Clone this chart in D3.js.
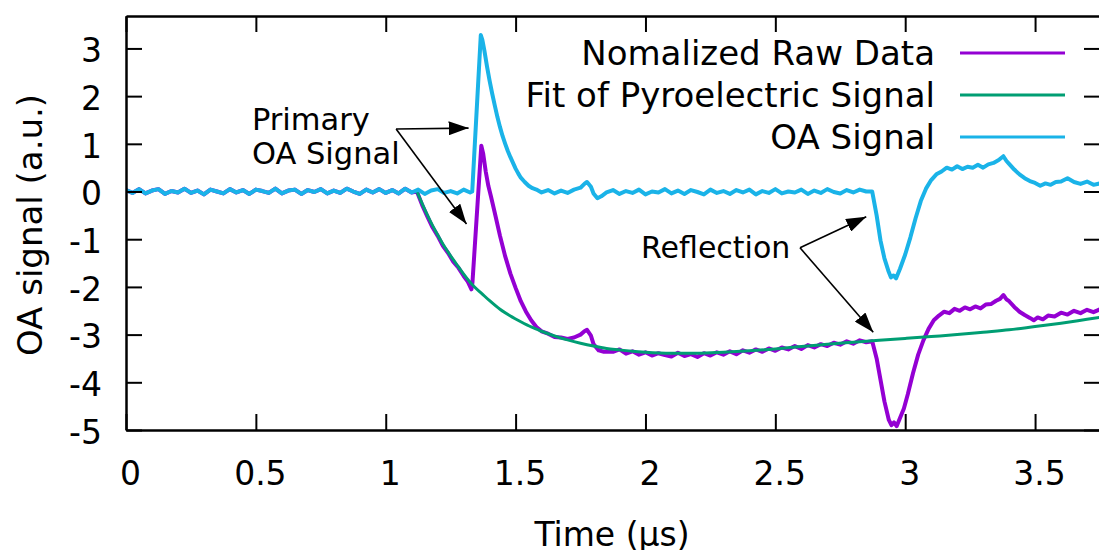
<!DOCTYPE html>
<html>
<head>
<meta charset="utf-8">
<script src="https://cdn.jsdelivr.net/npm/d3@7"></script>
<style>
  body { margin: 0; background: #fff; }
  svg { display: block; font-family: "DejaVu Sans", sans-serif; }
</style>
</head>
<body>
<div id="chart"></div>
<script>
// values, [time in µs, signal in a.u.]
var seriesNames = ["Nomalized Raw Data", "Fit of Pyroelectric Signal", "OA Signal"];
var seriesColors = ["#9400d3", "#009e73", "#1ab3e8"];

var rawData = [
  [0,0.03],[0.025,-0.03],[0.05,0.05],[0.075,-0.04],[0.1,0.02],[0.125,0.05],[0.15,-0.05],[0.175,0.01],
  [0.2,-0.02],[0.225,0.06],[0.25,-0.03],[0.275,0.02],[0.3,-0.06],[0.325,0.04],[0.35,0],[0.375,-0.04],
  [0.4,0.05],[0.425,-0.02],[0.45,0.03],[0.475,-0.05],[0.5,0.04],[0.525,0.01],[0.55,-0.03],[0.575,0.06],
  [0.6,-0.04],[0.625,0.02],[0.65,0.04],[0.675,-0.05],[0.7,0.03],[0.725,-0.01],[0.75,0.05],[0.775,-0.04],
  [0.8,0.02],[0.825,-0.03],[0.85,0.06],[0.875,0],[0.9,-0.05],[0.925,0.04],[0.95,-0.02],[0.975,0.05],
  [1.0,-0.03],[1.025,0.03],[1.05,-0.04],[1.075,0.06],[1.1,-0.02],[1.12,0],
  [1.14,-0.28],[1.16,-0.52],[1.18,-0.75],[1.2,-0.93],[1.22,-1.14],[1.24,-1.29],[1.26,-1.47],[1.28,-1.6],
  [1.3,-1.77],[1.315,-1.88],[1.33,-2.05],[1.334,-1.9],[1.368,0.96],[1.375,0.8],[1.385,0.42],[1.395,0.12],
  [1.405,-0.1],[1.42,-0.45],[1.44,-0.93],[1.46,-1.36],[1.48,-1.72],[1.5,-2.02],[1.52,-2.3],[1.54,-2.52],
  [1.56,-2.7],[1.58,-2.84],[1.6,-2.93],[1.625,-2.98],[1.65,-3.05],[1.675,-3.06],[1.7,-3.09],[1.725,-3.06],
  [1.75,-3.0],[1.765,-2.93],[1.775,-2.9],[1.79,-3.02],[1.8,-3.2],[1.82,-3.33],[1.84,-3.36],
  [1.875,-3.36],[1.9,-3.31],[1.925,-3.4],[1.95,-3.35],[1.975,-3.42],[2.0,-3.37],[2.025,-3.44],[2.05,-3.39],
  [2.075,-3.43],[2.1,-3.46],[2.125,-3.38],[2.15,-3.45],[2.175,-3.41],[2.2,-3.47],[2.225,-3.39],[2.25,-3.44],
  [2.275,-3.37],[2.3,-3.42],[2.325,-3.35],[2.35,-3.41],[2.375,-3.33],[2.4,-3.38],[2.425,-3.31],[2.45,-3.36],
  [2.475,-3.29],[2.5,-3.34],[2.525,-3.27],[2.55,-3.31],[2.575,-3.24],[2.6,-3.3],[2.625,-3.22],[2.65,-3.27],
  [2.675,-3.2],[2.7,-3.24],[2.725,-3.17],[2.75,-3.21],[2.775,-3.14],[2.8,-3.19],[2.825,-3.12],[2.85,-3.16],
  [2.873,-3.14],[2.89,-3.5],[2.905,-3.95],[2.92,-4.4],[2.937,-4.79],[2.947,-4.9],[2.957,-4.84],[2.967,-4.92],
  [2.98,-4.75],[2.995,-4.55],[3.01,-4.25],[3.03,-3.81],[3.05,-3.42],[3.07,-3.12],[3.09,-2.88],[3.11,-2.7],
  [3.13,-2.6],[3.15,-2.52],[3.17,-2.55],[3.19,-2.46],[3.21,-2.5],[3.23,-2.43],[3.25,-2.47],[3.27,-2.41],
  [3.29,-2.45],[3.31,-2.37],[3.33,-2.36],[3.35,-2.29],[3.365,-2.25],[3.378,-2.17],[3.39,-2.26],[3.4,-2.3],
  [3.42,-2.42],[3.44,-2.52],[3.46,-2.59],[3.48,-2.65],[3.495,-2.7],[3.51,-2.64],[3.53,-2.68],[3.55,-2.6],
  [3.575,-2.62],[3.6,-2.54],[3.625,-2.58],[3.65,-2.5],[3.675,-2.55],[3.7,-2.48],[3.725,-2.53],[3.75,-2.47]
];

var pyroFit = [
  [1.12,0],[1.14,-0.25],[1.16,-0.49],[1.18,-0.71],[1.2,-0.91],[1.22,-1.1],[1.24,-1.27],[1.26,-1.43],
  [1.28,-1.58],[1.3,-1.73],[1.32,-1.87],[1.34,-1.99],[1.37,-2.14],[1.4,-2.29],[1.44,-2.47],[1.48,-2.61],
  [1.52,-2.73],[1.56,-2.84],[1.6,-2.93],[1.65,-3.03],[1.7,-3.11],[1.75,-3.18],[1.8,-3.24],[1.85,-3.29],
  [1.9,-3.32],[1.95,-3.35],[2.0,-3.37],[2.1,-3.39],[2.2,-3.39],[2.3,-3.37],[2.4,-3.34],[2.5,-3.3],
  [2.6,-3.25],[2.7,-3.2],[2.8,-3.16],[2.9,-3.12],[3.0,-3.08],[3.1,-3.04],[3.2,-3.0],[3.3,-2.95],
  [3.4,-2.9],[3.5,-2.83],[3.6,-2.76],[3.7,-2.68],[3.75,-2.64]
];

var oaSignal = [
  [0,0.03],[0.025,-0.03],[0.05,0.05],[0.075,-0.04],[0.1,0.02],[0.125,0.05],[0.15,-0.05],[0.175,0.01],
  [0.2,-0.02],[0.225,0.06],[0.25,-0.03],[0.275,0.02],[0.3,-0.06],[0.325,0.04],[0.35,0],[0.375,-0.04],
  [0.4,0.05],[0.425,-0.02],[0.45,0.03],[0.475,-0.05],[0.5,0.04],[0.525,0.01],[0.55,-0.03],[0.575,0.06],
  [0.6,-0.04],[0.625,0.02],[0.65,0.04],[0.675,-0.05],[0.7,0.03],[0.725,-0.01],[0.75,0.05],[0.775,-0.04],
  [0.8,0.02],[0.825,-0.03],[0.85,0.06],[0.875,0],[0.9,-0.05],[0.925,0.04],[0.95,-0.02],[0.975,0.05],
  [1.0,-0.03],[1.025,0.03],[1.05,-0.04],[1.075,0.06],[1.1,-0.02],[1.125,0.04],[1.15,-0.05],[1.175,0.02],
  [1.2,0.05],[1.225,-0.03],[1.25,0.01],[1.275,-0.04],[1.3,0.04],[1.325,-0.02],
  [1.333,0],[1.366,3.28],[1.372,3.18],[1.38,2.95],[1.39,2.62],[1.4,2.32],[1.41,2.05],[1.42,1.8],
  [1.43,1.56],[1.44,1.35],[1.45,1.16],[1.46,1.0],[1.47,0.85],[1.48,0.72],[1.49,0.6],[1.5,0.48],
  [1.51,0.38],[1.52,0.29],[1.535,0.2],[1.55,0.12],[1.565,0.07],[1.58,0.04],[1.6,-0.02],[1.625,0.03],
  [1.65,-0.04],[1.675,0.02],[1.7,-0.03],[1.725,0.04],[1.75,0.08],[1.765,0.16],[1.775,0.2],[1.79,0.1],
  [1.8,-0.04],[1.815,-0.14],[1.83,-0.1],[1.85,-0.02],
  [1.875,0.03],[1.9,-0.05],[1.925,0.01],[1.95,-0.03],[1.975,0.04],[2.0,-0.06],[2.025,0],[2.05,-0.02],
  [2.075,0.05],[2.1,-0.04],[2.125,0.02],[2.15,-0.05],[2.175,0.03],[2.2,-0.01],[2.225,-0.06],[2.25,0.04],
  [2.275,-0.03],[2.3,0.01],[2.325,-0.05],[2.35,0.03],[2.375,-0.02],[2.4,0.04],[2.425,-0.06],[2.45,0.01],
  [2.475,-0.03],[2.5,0.05],[2.525,-0.04],[2.55,0],[2.575,-0.02],[2.6,0.04],[2.625,-0.05],[2.65,0.02],
  [2.675,-0.03],[2.7,0.05],[2.725,-0.01],[2.75,-0.04],[2.775,0.03],[2.8,-0.02],[2.825,0.04],[2.85,0],
  [2.873,0],[2.89,-0.5],[2.905,-1.03],[2.92,-1.4],[2.935,-1.66],[2.945,-1.8],[2.955,-1.76],[2.965,-1.82],
  [2.98,-1.62],[3.0,-1.32],[3.02,-0.96],[3.04,-0.56],[3.06,-0.2],[3.08,0.06],[3.1,0.24],[3.12,0.36],
  [3.14,0.42],[3.16,0.5],[3.18,0.46],[3.2,0.53],[3.22,0.47],[3.24,0.52],[3.26,0.5],[3.28,0.56],
  [3.3,0.5],[3.32,0.57],[3.34,0.6],[3.36,0.66],[3.378,0.74],[3.39,0.64],[3.4,0.58],[3.42,0.46],
  [3.44,0.36],[3.46,0.28],[3.48,0.22],[3.5,0.18],[3.52,0.12],[3.54,0.17],[3.56,0.14],[3.58,0.2],
  [3.6,0.21],[3.625,0.28],[3.65,0.2],[3.675,0.16],[3.7,0.21],[3.725,0.14],[3.75,0.17]
];

var xTicks = [0, 0.5, 1, 1.5, 2, 2.5, 3, 3.5];
var yTicks = [-5, -4, -3, -2, -1, 0, 1, 2, 3];

// annotation arrows: text position and arrow tips, all in data units
var primaryLabel = ["Primary", "OA Signal"];
var primaryFrom = [1.04, 1.31];
var primaryTips = [[1.319, 1.33], [1.311, -0.68]];
var reflectionLabel = "Reflection";
var reflectionFrom = [2.595, -1.18];
var reflectionTips = [[2.85, -0.53], [2.877, -2.95]];

var width = 1099, height = 550;
var plotLeft = 126, plotRight = 1100, plotTop = 16, plotBottom = 430;

var svg = d3.select("#chart").append("svg")
  .attr("width", width)
  .attr("height", height);

svg.append("rect").attr("width", width).attr("height", height).attr("fill", "#fff");

var x = d3.scaleLinear().domain([0, 3.75]).range([plotLeft, plotRight]);
var y = d3.scaleLinear().domain([-5, 3.68]).range([plotBottom, plotTop]);

svg.append("clipPath").attr("id", "plotclip")
  .append("rect")
    .attr("x", plotLeft).attr("y", plotTop)
    .attr("width", plotRight - plotLeft).attr("height", plotBottom - plotTop);

var line = d3.line()
  .x(function(d) { return x(d[0]); })
  .y(function(d) { return y(d[1]); });

var plot = svg.append("g").attr("clip-path", "url(#plotclip)");

plot.append("path").datum(rawData)
  .attr("d", line).attr("fill", "none")
  .attr("stroke", seriesColors[0]).attr("stroke-width", 4)
  .attr("stroke-linejoin", "round");

plot.append("path").datum(pyroFit)
  .attr("d", d3.line().curve(d3.curveMonotoneX).x(function(d){ return x(d[0]); }).y(function(d){ return y(d[1]); }))
  .attr("fill", "none")
  .attr("stroke", seriesColors[1]).attr("stroke-width", 3);

plot.append("path").datum(oaSignal)
  .attr("d", line).attr("fill", "none")
  .attr("stroke", seriesColors[2]).attr("stroke-width", 4)
  .attr("stroke-linejoin", "round");

// axes, ticks pointing inward like gnuplot
var plainNumber = function(d) { return String(d); };
var axisStyle = function(g) {
  g.select(".domain").attr("stroke", "#000").attr("stroke-width", 2.5);
  g.selectAll(".tick line").attr("stroke", "#000").attr("stroke-width", 2);
  g.selectAll(".tick text").attr("fill", "#000")
    .style("font-size", "33px").style("font-family", "DejaVu Sans");
};

svg.append("g")
  .attr("transform", "translate(0," + plotBottom + ")")
  .call(d3.axisBottom(x).tickValues(xTicks).tickSizeInner(-16).tickSizeOuter(0)
    .tickPadding(32).tickFormat(plainNumber))
  .call(axisStyle)
  .call(function(g) { g.selectAll(".tick text").attr("dx", 4); });

svg.append("g")
  .attr("transform", "translate(0," + plotTop + ")")
  .call(d3.axisTop(x).tickValues(xTicks).tickSizeInner(-16).tickSizeOuter(0).tickFormat(""))
  .call(axisStyle);

svg.append("g")
  .attr("transform", "translate(" + plotLeft + ",0)")
  .call(d3.axisLeft(y).tickValues(yTicks).tickSizeInner(-16).tickSizeOuter(0)
    .tickPadding(24).tickFormat(plainNumber))
  .call(axisStyle)
  .call(function(g) { g.selectAll(".tick text").attr("dy", "0.4em"); });

svg.append("g")
  .attr("transform", "translate(" + plotRight + ",0)")
  .call(d3.axisRight(y).tickValues(yTicks).tickSizeInner(-16).tickSizeOuter(0).tickFormat(""))
  .call(axisStyle);

// axis titles
svg.append("text")
  .attr("x", (plotLeft + plotRight) / 2 - 1).attr("y", 546)
  .attr("text-anchor", "middle")
  .style("font-size", "33px")
  .text("Time (µs)");

svg.append("text")
  .attr("transform", "translate(42," + ((plotTop + plotBottom) / 2 + 2) + ") rotate(-90)")
  .attr("text-anchor", "middle")
  .style("font-size", "34px")
  .text("OA signal (a.u.)");

// legend
var legend = svg.append("g");
seriesNames.forEach(function(name, i) {
  var ly = 53 + i * 42;
  legend.append("text")
    .attr("x", 935).attr("y", ly + 12)
    .attr("text-anchor", "end")
    .style("font-size", "34px")
    .text(name);
  legend.append("line")
    .attr("x1", 960).attr("x2", 1065)
    .attr("y1", ly).attr("y2", ly)
    .attr("stroke", seriesColors[i]).attr("stroke-width", 3);
});

// arrow annotations
svg.append("defs").append("marker")
  .attr("id", "head")
  .attr("markerUnits", "userSpaceOnUse")
  .attr("viewBox", "0 0 20 14")
  .attr("refX", 20).attr("refY", 7)
  .attr("markerWidth", 20).attr("markerHeight", 14)
  .attr("orient", "auto")
  .append("path")
    .attr("d", "M0,0 L20,7 L0,14 Z")
    .attr("fill", "#000");

function arrows(from, tips) {
  tips.forEach(function(t) {
    svg.append("line")
      .attr("x1", x(from[0])).attr("y1", y(from[1]))
      .attr("x2", x(t[0])).attr("y2", y(t[1]))
      .attr("stroke", "#000").attr("stroke-width", 1.6)
      .attr("marker-end", "url(#head)");
  });
}
arrows(primaryFrom, primaryTips);
arrows(reflectionFrom, reflectionTips);

svg.append("text")
  .attr("x", x(0.485)).attr("y", y(1.28))
  .style("font-size", "30.5px")
  .text(primaryLabel[0]);
svg.append("text")
  .attr("x", x(0.485)).attr("y", y(0.58))
  .style("font-size", "30.5px")
  .text(primaryLabel[1]);
svg.append("text")
  .attr("x", x(1.983)).attr("y", y(-1.39))
  .style("font-size", "30px")
  .text(reflectionLabel);
</script>
</body>
</html>
